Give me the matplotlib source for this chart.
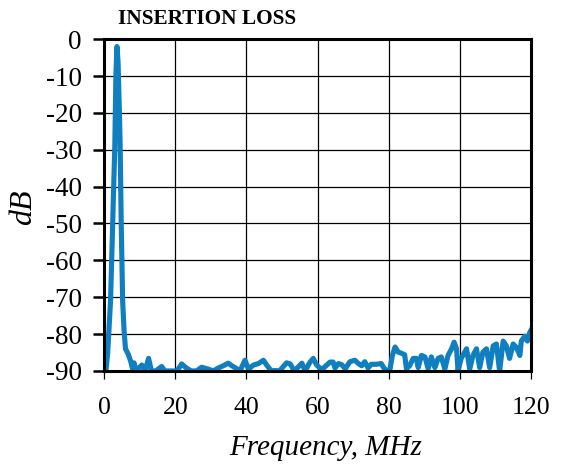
import numpy as np
import matplotlib
matplotlib.use('Agg')
import matplotlib.pyplot as plt

# insertion loss trace (MHz, dB)
freq = [0.0, 0.5, 1.0, 1.8, 2.4, 3.0, 3.3, 3.6, 3.9, 4.3, 4.5, 4.8, 5.2, 5.6, 6.0, 6.8, 7.5, 8.0,
        8.4, 8.9, 10.6, 11.5, 12.5, 13.3, 14.5, 16.2, 17.0, 20.5, 21.8, 23.1, 24.5, 26.0, 27.4, 28.9,
        29.3, 30.7, 32.1, 33.5, 34.9, 35.9, 37.3, 38.2, 39.6, 40.6, 42.0, 43.4, 44.8, 45.7, 47.0,
        48.1, 49.3, 51.3, 52.3, 53.5, 55.6, 56.5, 57.9, 58.8, 59.7, 60.6, 61.5, 63.5, 64.4, 64.9,
        65.9, 66.8, 67.8, 69.1, 70.5, 71.5, 72.4, 73.3, 74.2, 75.1, 76.5, 77.9, 78.8, 79.7, 80.3,
        81.0, 81.8, 82.7, 83.6, 84.5, 85.0, 85.9, 86.9, 87.8, 88.3, 89.2, 90.2, 91.1, 92.0, 93.0,
        93.9, 94.8, 95.8, 96.7, 97.7, 98.4, 99.1, 99.5, 100.4, 101.9, 102.8, 103.7, 104.7, 105.6,
        106.5, 107.5, 108.4, 109.4, 110.3, 111.2, 112.2, 113.1, 114.0, 115.0, 115.9, 116.9, 117.3,
        118.3, 119.0, 119.7, 120.0]
loss = [-90.0, -90.0, -85.0, -71.0, -50.0, -29.0, -10.0, -2.0, -6.0, -20.0, -29.0, -50.0, -71.0,
        -79.0, -84.0, -85.5, -87.5, -89.5,
        -87.8, -90.0, -88.4, -90.0, -86.6, -90.0, -90.0, -88.8, -90.0, -90.0, -88.1, -89.2, -90.0,
        -90.0, -89.0, -89.4,
        -89.5, -90.0, -89.2, -88.6, -87.9, -88.6, -89.4, -90.0, -87.1, -89.5, -88.4, -88.0, -87.1,
        -88.4, -90.0, -89.9, -90.0, -87.8, -88.1, -90.0, -87.9, -90.0, -87.6, -86.6, -88.3, -89.2,
        -89.4, -87.6, -87.6, -89.2, -88.0, -88.3, -89.4, -87.5, -87.1, -88.0, -88.6, -87.5, -89.2,
        -88.2, -88.2, -88.0, -89.4, -90.0, -90.0, -86.0, -83.5, -84.9, -85.2, -85.6, -89.4, -88.6,
        -86.6, -86.6, -89.1, -85.8, -86.2, -89.4, -86.2, -89.1, -86.6, -86.2, -89.5, -85.8, -84.0,
        -82.2, -84.0, -90.0, -86.6, -84.0, -89.5, -85.8, -84.0, -89.1, -84.9, -84.0, -89.1, -83.2,
        -82.7, -90.0, -81.9, -83.2, -86.6, -82.7, -83.6, -85.8, -81.9, -80.6, -81.9, -79.5, -79.0]

xticks = [0, 20, 40, 60, 80, 100, 120]
yticks = [0, -10, -20, -30, -40, -50, -60, -70, -80, -90]

plt.rcParams['font.family'] = ['Liberation Serif', 'DejaVu Serif']
plt.rcParams['axes.unicode_minus'] = False

fig = plt.figure(figsize=(5.66, 4.66), dpi=100)
ax = fig.add_axes([0.184, 0.204, 0.754, 0.712])

ax.plot(freq, loss, color='#0f7fc0', lw=3.7, solid_joinstyle='round')

ax.set_xlim(0, 120)
ax.set_ylim(-90, 0)
ax.set_xticks(xticks)
ax.set_yticks(yticks)
ax.grid(True, color='black', lw=0.9)
ax.set_axisbelow(True)

for s in ax.spines.values():
    s.set_linewidth(2.2)
ax.tick_params(axis='y', direction='out', length=8, width=1.8, labelsize=19.5, pad=8)
ax.tick_params(axis='x', direction='out', length=6, width=0.9, labelsize=18.5, pad=13)

ax.set_xlabel('Frequency, MHz', fontsize=21, style='italic')
ax.xaxis.set_label_coords(0.519, -0.253)
ax.xaxis.label.set_verticalalignment('baseline')
ax.set_ylabel('dB', fontsize=23, style='italic')
ax.yaxis.set_label_coords(-0.19, 0.494)
ax.yaxis.label.set_verticalalignment('center')
ax.text(0.033, 1.047, 'INSERTION LOSS', transform=ax.transAxes, fontsize=15.3,
        fontweight='bold', va='baseline', ha='left')

fig.savefig('out.png', dpi=100)
